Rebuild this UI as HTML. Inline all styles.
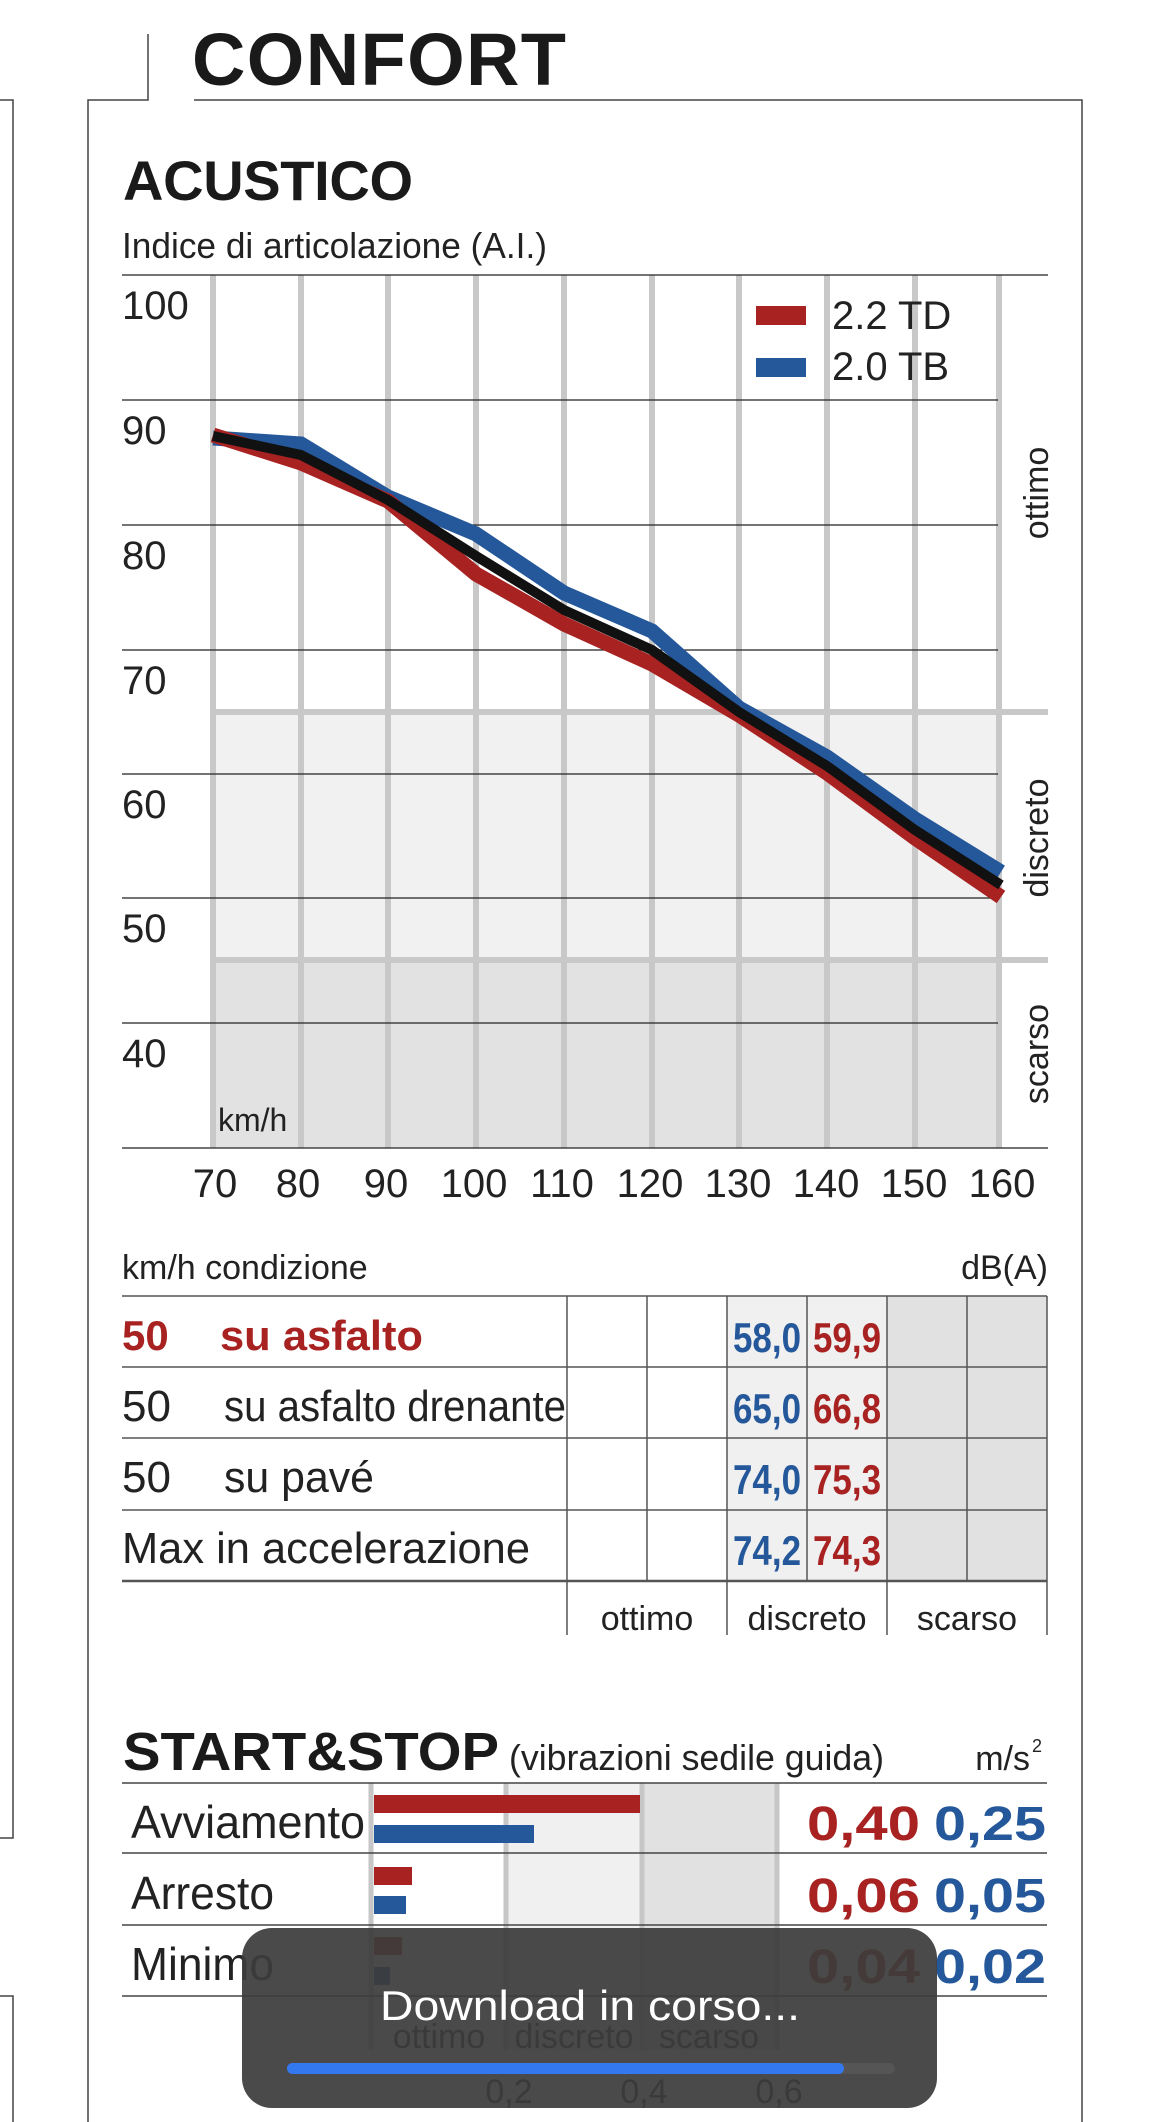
<!DOCTYPE html>
<html><head><meta charset="utf-8"><style>
html,body{margin:0;padding:0;background:#fff}
svg{display:block}
text{font-family:"Liberation Sans",sans-serif}
</style></head><body>
<svg width="1170" height="2122" viewBox="0 0 1170 2122" xmlns="http://www.w3.org/2000/svg">
<!-- page frames -->
<g fill="none" stroke="#444" stroke-width="1.5">
<polyline points="0,100 13,100 13,1838 0,1838"/>
<polyline points="0,1996 13,1996 13,2122"/>
<polyline points="88,2122 88,100 148,100 148,34"/>
<polyline points="194,100 1082,100 1082,2122"/>
</g>
<text x="192" y="85" font-size="74" font-weight="bold" fill="#1a1a1a" textLength="374">CONFORT</text>
<text x="123" y="200" font-size="56" font-weight="bold" fill="#1a1a1a" textLength="290">ACUSTICO</text>
<text x="122" y="258" font-size="36" fill="#222" textLength="425" lengthAdjust="spacingAndGlyphs">Indice di articolazione (A.I.)</text>

<!-- bands -->
<rect x="213" y="712" width="785" height="248" fill="#f1f1f1"/>
<rect x="213" y="960" width="785" height="188" fill="#e2e2e2"/>
<!-- vertical gray grid -->
<g stroke="#c8c8c8" stroke-width="6">
<line x1="213" y1="275" x2="213" y2="1148"/><line x1="301" y1="275" x2="301" y2="1148"/>
<line x1="388" y1="275" x2="388" y2="1148"/><line x1="476" y1="275" x2="476" y2="1148"/>
<line x1="564" y1="275" x2="564" y2="1148"/><line x1="652" y1="275" x2="652" y2="1148"/>
<line x1="739" y1="275" x2="739" y2="1148"/><line x1="827" y1="275" x2="827" y2="1148"/>
<line x1="915" y1="275" x2="915" y2="1148"/><line x1="999" y1="275" x2="999" y2="1148"/>
<line x1="213" y1="712" x2="1048" y2="712"/><line x1="213" y1="960" x2="1048" y2="960"/>
</g>
<!-- horizontal black grid -->
<g stroke="#222" stroke-width="1.3">
<line x1="122" y1="275" x2="1048" y2="275"/>
<line x1="122" y1="400" x2="998" y2="400"/><line x1="122" y1="525" x2="998" y2="525"/>
<line x1="122" y1="650" x2="998" y2="650"/><line x1="122" y1="774" x2="998" y2="774"/>
<line x1="122" y1="898" x2="998" y2="898"/><line x1="122" y1="1023" x2="998" y2="1023"/>
<line x1="122" y1="1148" x2="1048" y2="1148"/>
</g>
<g font-size="40" fill="#222">
<text x="122" y="319">100</text><text x="122" y="444">90</text><text x="122" y="569">80</text>
<text x="122" y="694">70</text><text x="122" y="818">60</text><text x="122" y="942">50</text>
<text x="122" y="1067">40</text>
</g>
<text x="218" y="1131" font-size="32" fill="#222">km/h</text>
<g font-size="40" fill="#222" text-anchor="middle">
<text x="215" y="1197">70</text><text x="298" y="1197">80</text><text x="386" y="1197">90</text>
<text x="474" y="1197">100</text><text x="562" y="1197">110</text><text x="650" y="1197">120</text>
<text x="738" y="1197">130</text><text x="826" y="1197">140</text><text x="914" y="1197">150</text>
<text x="1002" y="1197">160</text>
</g>
<g font-size="34" fill="#222" text-anchor="middle">
<text transform="translate(1048,493) rotate(-90)">ottimo</text>
<text transform="translate(1048,838) rotate(-90)">discreto</text>
<text transform="translate(1048,1054) rotate(-90)">scarso</text>
</g>
<!-- legend -->
<rect x="756" y="306" width="50" height="19" fill="#a82222"/>
<rect x="756" y="358" width="50" height="19" fill="#25589a"/>
<text x="832" y="329" font-size="40" fill="#222">2.2 TD</text>
<text x="832" y="380" font-size="40" fill="#222">2.0 TB</text>
<!-- series -->
<g fill="none" stroke-linejoin="miter">
<polyline stroke="#25589a" stroke-width="15" points="213,438 301,444 388,497 476,534 564,593 652,631 739,708 827,757 915,819 1001,872"/>
<polyline stroke="#a82222" stroke-width="15" points="213,435 301,463 388,501 476,574 564,624 652,664 739,715 827,773 915,838 1001,897"/>
<polyline stroke="#111" stroke-width="10" points="213,436 301,455 388,500 476,556 564,610 652,650 739,712 827,766 915,830 1001,885"/>
</g>

<!-- table -->
<text x="122" y="1279" font-size="34" fill="#222">km/h  condizione</text>
<text x="1048" y="1279" font-size="34" fill="#222" text-anchor="end">dB(A)</text>
<rect x="727" y="1296" width="160" height="285" fill="#f0f0f0"/>
<rect x="887" y="1296" width="160" height="285" fill="#e1e1e1"/>
<g stroke="#555" stroke-width="1.5">
<line x1="122" y1="1296" x2="1047" y2="1296"/><line x1="122" y1="1367" x2="1047" y2="1367"/>
<line x1="122" y1="1438" x2="1047" y2="1438"/><line x1="122" y1="1510" x2="1047" y2="1510"/>
<line x1="122" y1="1581" x2="1047" y2="1581" stroke-width="2.5"/>
<line x1="567" y1="1296" x2="567" y2="1635"/><line x1="647" y1="1296" x2="647" y2="1581"/>
<line x1="727" y1="1296" x2="727" y2="1635"/><line x1="807" y1="1296" x2="807" y2="1581"/>
<line x1="887" y1="1296" x2="887" y2="1635"/><line x1="967" y1="1296" x2="967" y2="1581"/>
<line x1="1047" y1="1296" x2="1047" y2="1635"/>
</g>
<text x="122" y="1350" font-size="42" font-weight="bold" fill="#a82222">50</text>
<text x="220" y="1350" font-size="42" font-weight="bold" fill="#a82222" textLength="203" lengthAdjust="spacingAndGlyphs">su asfalto</text>
<g font-size="44" fill="#222">
<text x="122" y="1421">50</text>
<text x="224" y="1421" textLength="342" lengthAdjust="spacingAndGlyphs">su asfalto drenante</text>
<text x="122" y="1492">50</text>
<text x="224" y="1492" textLength="150" lengthAdjust="spacingAndGlyphs">su pavé</text>
<text x="122" y="1563" textLength="408" lengthAdjust="spacingAndGlyphs">Max in accelerazione</text>
</g>
<g font-size="42" font-weight="bold" text-anchor="middle" lengthAdjust="spacingAndGlyphs">
<text x="767" y="1352" fill="#25589a" textLength="68" lengthAdjust="spacingAndGlyphs">58,0</text>
<text x="847" y="1352" fill="#a82222" textLength="68" lengthAdjust="spacingAndGlyphs">59,9</text>
<text x="767" y="1423" fill="#25589a" textLength="68" lengthAdjust="spacingAndGlyphs">65,0</text>
<text x="847" y="1423" fill="#a82222" textLength="68" lengthAdjust="spacingAndGlyphs">66,8</text>
<text x="767" y="1494" fill="#25589a" textLength="68" lengthAdjust="spacingAndGlyphs">74,0</text>
<text x="847" y="1494" fill="#a82222" textLength="68" lengthAdjust="spacingAndGlyphs">75,3</text>
<text x="767" y="1565" fill="#25589a" textLength="68" lengthAdjust="spacingAndGlyphs">74,2</text>
<text x="847" y="1565" fill="#a82222" textLength="68" lengthAdjust="spacingAndGlyphs">74,3</text>
</g>
<g font-size="34" fill="#222" text-anchor="middle">
<text x="647" y="1630">ottimo</text><text x="807" y="1630">discreto</text><text x="967" y="1630">scarso</text>
</g>

<!-- start&stop -->
<text x="123" y="1770" font-size="54" font-weight="bold" fill="#1a1a1a" textLength="376" lengthAdjust="spacingAndGlyphs">START&amp;STOP</text>
<text x="509" y="1770" font-size="36" fill="#222" textLength="375" lengthAdjust="spacingAndGlyphs">(vibrazioni sedile guida)</text>
<text x="1030" y="1770" font-size="34" fill="#222" text-anchor="end">m/s</text>
<text x="1032" y="1752" font-size="18" fill="#222">2</text>
<rect x="506" y="1783" width="136" height="267" fill="#f0f0f0"/>
<rect x="642" y="1783" width="135" height="267" fill="#e1e1e1"/>
<g stroke="#c6c6c6" stroke-width="5">
<line x1="371" y1="1783" x2="371" y2="2050"/><line x1="506" y1="1783" x2="506" y2="2050"/>
<line x1="642" y1="1783" x2="642" y2="2050"/><line x1="777" y1="1783" x2="777" y2="2050"/>
</g>
<g stroke="#444" stroke-width="1.5">
<line x1="122" y1="1783" x2="1047" y2="1783"/><line x1="122" y1="1853" x2="1047" y2="1853"/>
<line x1="122" y1="1925" x2="1047" y2="1925"/><line x1="122" y1="1996" x2="1047" y2="1996"/>
</g>
<rect x="374" y="1795" width="266" height="18" fill="#a82222"/>
<rect x="374" y="1825" width="160" height="18" fill="#25589a"/>
<rect x="374" y="1867" width="38" height="18" fill="#a82222"/>
<rect x="374" y="1896" width="32" height="18" fill="#25589a"/>
<rect x="374" y="1937" width="28" height="18" fill="#a82222"/>
<rect x="374" y="1967" width="16" height="18" fill="#25589a"/>
<g font-size="46" fill="#222">
<text x="131" y="1838" textLength="234" lengthAdjust="spacingAndGlyphs">Avviamento</text>
<text x="131" y="1909" textLength="143" lengthAdjust="spacingAndGlyphs">Arresto</text>
<text x="131" y="1980" textLength="143" lengthAdjust="spacingAndGlyphs">Minimo</text>
</g>
<g font-size="48" font-weight="bold">
<text x="807" y="1840" fill="#a82222" textLength="113" lengthAdjust="spacingAndGlyphs">0,40</text>
<text x="934" y="1840" fill="#25589a" textLength="112" lengthAdjust="spacingAndGlyphs">0,25</text>
<text x="807" y="1912" fill="#a82222" textLength="113" lengthAdjust="spacingAndGlyphs">0,06</text>
<text x="934" y="1912" fill="#25589a" textLength="112" lengthAdjust="spacingAndGlyphs">0,05</text>
<text x="807" y="1983" fill="#a82222" textLength="113" lengthAdjust="spacingAndGlyphs">0,04</text>
<text x="934" y="1983" fill="#25589a" textLength="112" lengthAdjust="spacingAndGlyphs">0,02</text>
</g>
<g font-size="34" fill="#222" text-anchor="middle">
<text x="439" y="2048">ottimo</text><text x="574" y="2048">discreto</text><text x="709" y="2048">scarso</text>
<text x="509" y="2103">0,2</text><text x="644" y="2103">0,4</text><text x="779" y="2103">0,6</text>
</g>

<!-- toast overlay -->
<rect x="242" y="1928" width="695" height="180" rx="30" fill="#3c3c3c" fill-opacity="0.93"/>
<text x="590" y="2020" font-size="42" fill="#fff" text-anchor="middle" textLength="420" lengthAdjust="spacingAndGlyphs">Download in corso...</text>
<rect x="287" y="2063" width="608" height="11" rx="5.5" fill="#555"/>
<rect x="287" y="2063" width="557" height="11" rx="5.5" fill="#3478f0"/>
</svg>
</body></html>
